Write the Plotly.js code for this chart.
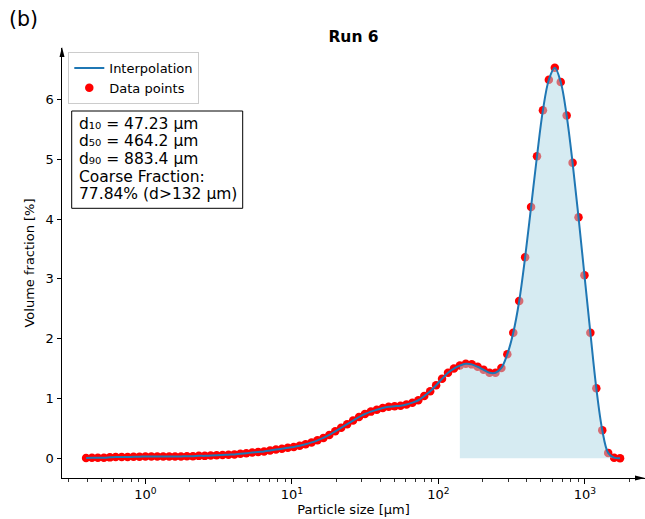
<!DOCTYPE html>
<html>
<head>
<meta charset="utf-8">
<script src="https://cdn.plot.ly/plotly-3.0.1.min.js"></script>
<style>
  html, body { margin: 0; padding: 0; background: #fff; }
  #chart { width: 645px; height: 519px; }
</style>
</head>
<body>
<div id="chart"></div>
<script>
// Particle size classes (µm, channel mid-points) and measured volume fractions (%)
const sizes = [
  0.393, 0.431, 0.473, 0.520, 0.571, 0.626, 0.688, 0.755, 0.829, 0.910,
  0.999, 1.097, 1.204, 1.321, 1.451, 1.592, 1.748, 1.919, 2.107, 2.313,
  2.539, 2.787, 3.059, 3.358, 3.687, 4.047, 4.443, 4.877, 5.354, 5.877,
  6.451, 7.082, 7.774, 8.534, 9.368, 10.28, 11.29, 12.39, 13.60, 14.93,
  16.39, 17.99, 19.75, 21.68, 23.80, 26.13, 28.68, 31.49, 34.56, 37.94,
  41.65, 45.72, 50.19, 55.10, 60.48, 66.39, 72.88, 80.01, 87.83, 96.41,
  105.8, 116.2, 127.5, 140.0, 153.7, 168.7, 185.2, 203.3, 223.2, 245.0,
  268.9, 295.2, 324.1, 355.8, 390.5, 428.7, 470.6, 516.6, 567.1, 622.5,
  683.4, 750.2, 823.5, 904.0, 992.4, 1089, 1196, 1313, 1441, 1582,
  1737
];
const volume = [
  0.005, 0.01, 0.01, 0.01, 0.015, 0.02, 0.02, 0.02, 0.025, 0.025,
  0.03, 0.03, 0.03, 0.03, 0.03, 0.03, 0.03, 0.035, 0.035, 0.04,
  0.04, 0.045, 0.05, 0.055, 0.06, 0.065, 0.075, 0.085, 0.095, 0.105,
  0.115, 0.13, 0.145, 0.16, 0.175, 0.19, 0.21, 0.235, 0.265, 0.30,
  0.34, 0.39, 0.45, 0.51, 0.57, 0.63, 0.69, 0.74, 0.78, 0.81,
  0.84, 0.86, 0.87, 0.88, 0.90, 0.93, 0.97, 1.04, 1.12, 1.22,
  1.33, 1.43, 1.50, 1.55, 1.58, 1.57, 1.53, 1.48, 1.43, 1.43,
  1.51, 1.74, 2.10, 2.63, 3.36, 4.20, 5.05, 5.82, 6.33, 6.53,
  6.29, 5.73, 4.94, 4.03, 3.06, 2.10, 1.17, 0.47, 0.09, 0.01,
  0.00
];

// Coarse-fraction threshold (µm)
const coarseCut = 132;

const statsLines = [
  'd\u2081\u2080 = 47.23 µm',
  'd\u2085\u2080 = 464.2 µm',
  'd\u2089\u2080 = 883.4 µm',
  'Coarse Fraction:',
  '77.84% (d>132 µm)'
];

const xTickVals = [1, 10, 100, 1000];
const xTickText = ['10<sup>0</sup>', '10<sup>1</sup>', '10<sup>2</sup>', '10<sup>3</sup>'];
const yTickVals = [0, 1, 2, 3, 4, 5, 6];

// Axis ranges (log10 for x)
const xRange = [-0.570, 3.410];
const yRange = [-0.33, 6.86];

// Minor ticks at 2..9 of each decade inside the visible range
const minorVals = [];
for (let d = -1; d <= 3; d++) {
  for (let k = 2; k <= 9; k++) {
    const v = k * Math.pow(10, d);
    const lv = Math.log10(v);
    if (lv > xRange[0] && lv < xRange[1]) minorVals.push(v);
  }
}

const coarseX = sizes.filter(s => s >= coarseCut);
const coarseY = volume.filter((v, i) => sizes[i] >= coarseCut);

const FONT = 'DejaVu Sans, Verdana, sans-serif';

const traces = [
  {
    x: sizes, y: volume,
    type: 'scatter', mode: 'markers', name: 'Data points',
    marker: { color: '#ff0000', size: 8.5, line: { width: 0 } },
    legendrank: 2
  },
  {
    x: coarseX, y: coarseY,
    type: 'scatter', mode: 'lines', showlegend: false,
    line: { width: 0, shape: 'spline', smoothing: 1 },
    fill: 'tozeroy', fillcolor: 'rgba(173,216,230,0.5)'
  },
  {
    x: sizes, y: volume,
    type: 'scatter', mode: 'lines', name: 'Interpolation',
    line: { color: '#1f77b4', width: 2, shape: 'spline', smoothing: 1 },
    legendrank: 1
  }
];

// Plot-area geometry in pixels, used to place the text box
const W = 645, H = 519;
const M = { l: 62, r: 0, t: 48, b: 41 };
const pw = W - M.l - M.r, ph = H - M.t - M.b;
const px = x => (x - M.l) / pw;
const py = y => (H - M.b - y) / ph;

const annotations = statsLines.map((txt, i) => ({
  text: txt, xref: 'paper', yref: 'paper',
  x: px(77), y: py(123.6 + 17.7 * i),
  xanchor: 'left', yanchor: 'middle', showarrow: false,
  font: { family: FONT, size: 15.5, color: '#000' }
}));
annotations.push({
  text: '(b)', xref: 'paper', yref: 'paper',
  x: px(6.5), y: py(19), xanchor: 'left', yanchor: 'middle',
  showarrow: false, font: { family: FONT, size: 20.5, color: '#000' }
});

const shapes = [
  // text box frame
  {
    type: 'rect', xref: 'paper', yref: 'paper',
    x0: px(71.7), x1: px(242.7), y0: py(208.3), y1: py(111),
    line: { color: '#000', width: 1 }, fillcolor: '#fff', layer: 'above'
  },
  // arrow heads at the ends of the axis lines
  {
    type: 'path', xref: 'paper', yref: 'paper',
    xsizemode: 'pixel', ysizemode: 'pixel', xanchor: 0, yanchor: 1,
    path: 'M0,1 L-2.5,-9 L2.5,-9 Z',
    fillcolor: '#000', line: { width: 0 }, layer: 'above'
  },
  {
    type: 'path', xref: 'paper', yref: 'paper',
    xsizemode: 'pixel', ysizemode: 'pixel', xanchor: 1, yanchor: 0,
    path: 'M0,0 L-10,2.5 L-10,-2.5 Z',
    fillcolor: '#000', line: { width: 0 }, layer: 'above'
  }
];

const layout = {
  width: W, height: H,
  margin: M,
  paper_bgcolor: '#fff', plot_bgcolor: '#fff',
  font: { family: FONT, size: 13, color: '#000' },
  title: {
    text: 'Run 6',
    font: { family: FONT, size: 15.5, weight: 'bold', color: '#000' },
    xref: 'paper', x: 0.5, xanchor: 'center',
    yref: 'container', y: 1 - 37 / H, yanchor: 'middle'
  },
  showlegend: true,
  legend: {
    x: px(68.3), y: py(52), xanchor: 'left', yanchor: 'top',
    bgcolor: 'rgba(255,255,255,0.8)', bordercolor: '#cccccc', borderwidth: 1,
    font: { family: FONT, size: 13, color: '#000' }
  },
  xaxis: {
    type: 'log', range: xRange,
    showline: true, linecolor: '#000', linewidth: 1,
    showgrid: false, zeroline: false,
    ticks: 'outside', ticklen: 4.5, tickwidth: 1, tickcolor: '#000',
    tickmode: 'array', tickvals: xTickVals, ticktext: xTickText,
    tickfont: { family: FONT, size: 13, color: '#000' },
    minor: { tickmode: 'array', tickvals: minorVals, ticks: 'outside', ticklen: 2.5, tickwidth: 0.8, tickcolor: '#000', showgrid: false },
    title: { text: 'Particle size [µm]', font: { family: FONT, size: 13, color: '#000' }, standoff: 2 }
  },
  yaxis: {
    range: yRange,
    showline: true, linecolor: '#000', linewidth: 1,
    showgrid: false, zeroline: false,
    ticks: 'outside', ticklen: 4.5, tickwidth: 1, tickcolor: '#000',
    tickmode: 'array', tickvals: yTickVals,
    tickfont: { family: FONT, size: 13, color: '#000' },
    title: { text: 'Volume fraction [%]', font: { family: FONT, size: 13, color: '#000' }, standoff: 8 }
  },
  annotations: annotations,
  shapes: shapes
};

Plotly.newPlot('chart', traces, layout, { staticPlot: true, displayModeBar: false });
</script>
</body>
</html>
